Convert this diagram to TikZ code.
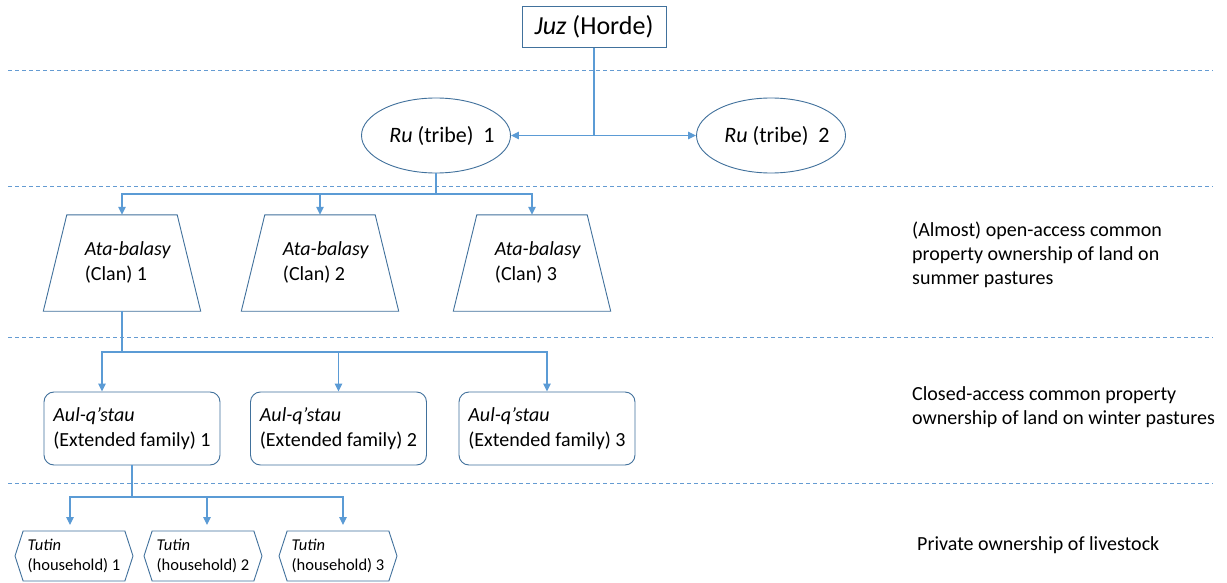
\documentclass[tikz,border=0pt]{standalone}
\usepackage{fontspec}
\setmainfont{Carlito}
\usetikzlibrary{shapes.geometric,shapes.symbols,arrows.meta}
\definecolor{edgeblue}{RGB}{65,113,156}
\definecolor{linkblue}{RGB}{91,155,213}
\definecolor{dashblue}{RGB}{100,155,210}
\begin{document}
\begin{tikzpicture}[x=1pt,y=-1pt,
  shapeline/.style={draw=edgeblue, line width=0.9pt},
  juzbox/.style={shapeline, rectangle, minimum width=144pt, minimum height=41.5pt, inner sep=0pt, font=\fontsize{26}{30}\selectfont},
  rubox/.style={shapeline, ellipse, minimum width=149pt, minimum height=75pt, inner ysep=0pt, inner xsep=-8pt, font=\fontsize{22}{26}\selectfont},
  clanbox/.style={rectangle, minimum width=157pt, minimum height=96pt, inner ysep=0pt, inner xsep=0pt, align=left, font=\fontsize{20}{25}\selectfont},
  aulbox/.style={shapeline, rectangle, rounded corners=10pt, minimum width=176pt, minimum height=73pt, inner sep=0pt, align=left, font=\fontsize{20}{25}\selectfont},
  tutbox/.style={shapeline, signal, signal to=east and west, signal pointer angle=144, minimum width=118pt, minimum height=50pt, inner sep=0pt, align=left, font=\fontsize{16.5}{20}\selectfont},
  arr/.style={draw=linkblue, line width=1.2pt, -{Triangle[length=8pt,width=7.5pt]}},
  dashline/.style={draw=dashblue, line width=1pt, dash pattern=on 4pt off 3pt},
  sidetext/.style={anchor=north west, inner sep=0pt, align=left, font=\fontsize{20}{24}\selectfont}
]
\useasboundingbox (0,0) rectangle (1227,583);
\fill[white] (0,0) rectangle (1227,583);

% dashed separators
\draw[dashline] (8,71) -- (1213,71);
\draw[dashline] (8,187) -- (1213,187);
\draw[dashline] (8,337) -- (1213,337);
\draw[dashline] (8,483) -- (1213,483);

% nodes
\node[juzbox] (juz) at (594,27) {\textit{Juz} (Horde)};
\node[rubox] (ru1) at (436,135.5) {\hspace{12pt}\textit{Ru} (tribe)\ \ 1};
\node[rubox] (ru2) at (771,135.5) {\hspace{12pt}\textit{Ru} (tribe)\ \ 2};

\node[clanbox] (c1) at (122,263) {\hspace{12pt}\begin{tabular}{@{}l@{}}\textit{Ata-balasy}\\(Clan) 1\end{tabular}};
\node[clanbox] (c2) at (320,263) {\hspace{12pt}\begin{tabular}{@{}l@{}}\textit{Ata-balasy}\\(Clan) 2\end{tabular}};
\node[clanbox] (c3) at (532,263) {\hspace{12pt}\begin{tabular}{@{}l@{}}\textit{Ata-balasy}\\(Clan) 3\end{tabular}};
\foreach \c in {c1,c2,c3}
  \draw[shapeline] ([xshift=23.5pt]\c.north west) -- ([xshift=-23.5pt]\c.north east)
    -- (\c.south east) -- (\c.south west) -- cycle;

\node[aulbox] (a1) at (132,428.5) {\textit{Aul-q’stau}\\(Extended family) 1};
\node[aulbox] (a2) at (338.5,428.5) {\textit{Aul-q’stau}\\(Extended family) 2};
\node[aulbox] (a3) at (547,428.5) {\textit{Aul-q’stau}\\(Extended family) 3};

\node[tutbox] (t1) at (74,556) {\textit{Tutin}\\(household) 1};
\node[tutbox] (t2) at (203,556) {\textit{Tutin}\\(household) 2};
\node[tutbox] (t3) at (338,556) {\textit{Tutin}\\(household) 3};

\node[sidetext] (lab1) at (912,221.5) {(Almost) open-access common\\property ownership of land on\\summer pastures};
\node[sidetext] (lab2) at (912,386) {Closed-access common property\\ownership of land on winter pastures};
\node[sidetext] (lab3) at (917,536) {Private ownership of livestock};

% bus levels
\coordinate (bus1) at (0,194);
\coordinate (bus2) at (0,352);
\coordinate (bus3) at (0,497);

% connectors
\draw[arr] (juz.south) |- (ru1.east);
\draw[arr] (juz.south) |- (ru2.west);

\draw[arr] (ru1.south) -- (ru1.south |- bus1) -| (c1.north);
\draw[arr] (ru1.south) -- (ru1.south |- bus1) -| (c2.north);
\draw[arr] (ru1.south) -- (ru1.south |- bus1) -| (c3.north);

\draw[arr] (c1.south) -- (c1.south |- bus2) -| ([xshift=-30pt]a1.north);
\draw[arr] (c1.south) -- (c1.south |- bus2) -| (a2.north);
\draw[arr] (c1.south) -- (c1.south |- bus2) -| (a3.north);

\draw[arr, shorten >=5.5pt] (a1.south) -- (a1.south |- bus3) -| ([xshift=-4pt]t1.north);
\draw[arr, shorten >=5.5pt] (a1.south) -- (a1.south |- bus3) -| ([xshift=4pt]t2.north);
\draw[arr, shorten >=5.5pt] (a1.south) -- (a1.south |- bus3) -| ([xshift=5pt]t3.north);
\end{tikzpicture}
\end{document}
